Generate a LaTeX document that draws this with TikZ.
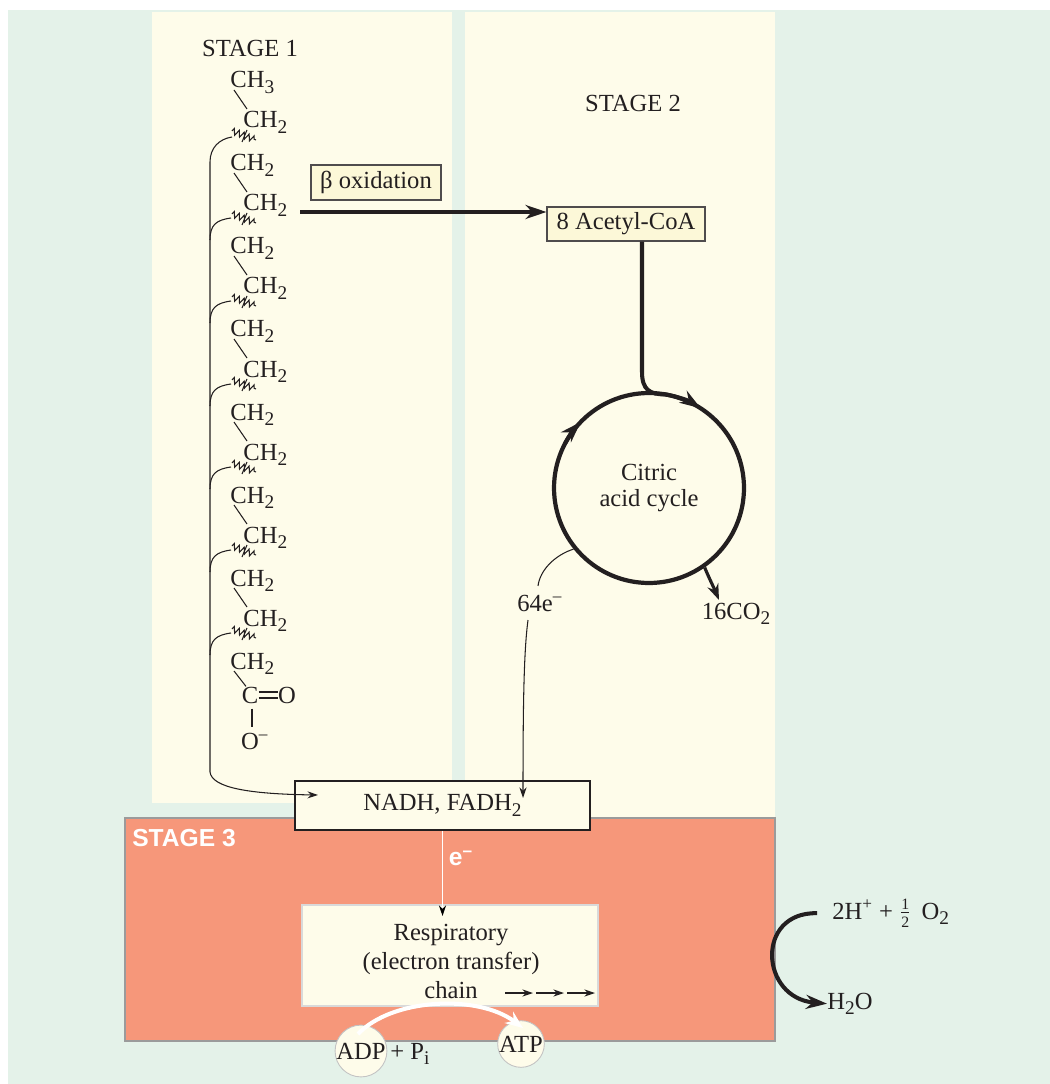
\documentclass[tikz,border=0pt]{standalone}
\usepackage{amsmath}
\usepackage{fontspec}
\setmainfont{Liberation Serif}
\setsansfont{Liberation Sans}
\usetikzlibrary{arrows.meta,calc,decorations.pathmorphing}

\definecolor{mint}{HTML}{E4F2E9}
\definecolor{cream}{HTML}{FEFCEA}
\definecolor{straw}{HTML}{FCF8D8}
\definecolor{salmon}{HTML}{F6977A}
\definecolor{rim}{HTML}{9B9B9B}
\definecolor{pale}{HTML}{D9D9D9}
\definecolor{ink}{HTML}{231F20}

\newcommand{\sub}[1]{\raisebox{-0.5ex}{\fontsize{11}{11}\selectfont #1}}
\newcommand{\chtwo}{CH\sub{2}}

\begin{document}
\begin{tikzpicture}[x=0.02cm,y=-0.02cm,
  txt/.style={font=\fontsize{14}{16.5}\selectfont,inner sep=0pt,text=ink},
  chem/.style={txt,anchor=base west},
  bond/.style={ink,line width=0.6pt},
  heavy/.style={ink,line width=2.3pt},
  box/.style={draw=ink,fill=cream,line width=0.8pt,txt},
  thintip/.style={-{Stealth[length=6pt,width=4pt]}},
  bigtip/.style={-{Stealth[length=12pt,width=8pt]}},
  coin/.style={circle,draw=rim!60,fill=cream,line width=0.5pt,minimum size=0.92cm,txt}]

\useasboundingbox (0,0) rectangle (1050,1084);
\fill[white] (0,0) rectangle (1050,1084);
\fill[mint] (8,10) rectangle (1050,1084);
\fill[cream] (152,12) rectangle (452,803);
\fill[cream] (465,12) rectangle (775,818);
\draw[rim,fill=salmon,line width=1.1pt] (125,818) rectangle (775,1041);

% stage labels
\node[txt] (st1) at (250,48) {STAGE 1};
\node[txt] (st2) at (633,103) {STAGE 2};
\node[txt,font=\sffamily\bfseries\fontsize{14}{16}\selectfont,text=white] (st3) at (184,838) {STAGE 3};

% fatty acid chain
\node[chem] (l0) at (230,88) {CH\sub{3}};
\foreach \i in {1,...,7}
  \node[chem] (l\i) at (230,88+83*\i) {\chtwo};
\foreach \i in {0,...,6}{
  \node[chem] (r\i) at (243,128+83*\i) {\chtwo};
  \draw[bond] ($(l\i.base west)+(4,2)$) -- ($(r\i.base west)+(4,-19)$);
  \draw[bond,decorate,decoration={zigzag,segment length=3pt,amplitude=1.8pt}]
    ($(r\i.base west)+(-11,3)$) -- ($(r\i.base west)+(13,12)$);
  \draw[bond] ($(r\i.base west)+(4,2)$) -- ($(r\i.base west)+(-1,14)$);
}
\node[txt] (cc) at (250,695) {C};
\node[txt] (oo) at (287,695) {O};
\node[txt] (om) at (250,741) {O\rlap{\textsuperscript{–}}};
\draw[bond] ($(l7.base west)+(4,2)$) -- ($(cc.north)+(-4,0)$);
\draw[bond] ($(cc.east)+(0,-3)$) -- ($(oo.west)+(0,-3)$);
\draw[bond] ($(cc.east)+(0,3)$) -- ($(oo.west)+(0,3)$);
\draw[bond] ($(cc.south)+(2,5)$) -- ($(om.north)+(2,-5)$);

% boxes
\node[box,fill=straw,draw=ink!80,line width=0.6pt,minimum width=2.6cm,minimum height=0.7cm] (beta) at (376,182.5) {β oxidation};
\node[box,fill=straw,draw=ink!80,line width=0.6pt,minimum width=3.16cm,minimum height=0.68cm] (acetyl) at (626,224) {8 Acetyl-CoA};
\node[box,line width=1.1pt,minimum width=5.9cm,minimum height=0.98cm] (nadh) at (442.5,805.5) {NADH, FADH\sub{2}};
\node[box,draw=pale,line width=1.1pt,minimum width=5.92cm,minimum height=2.02cm] (resp) at (450,955.5) {};
\node[txt,align=center] (resptxt) at (451,961) {Respiratory\\(electron transfer)\\chain};

% bracket to NADH
\coordinate (ntip) at (318,795);
\draw[bond,thintip] ($(r0.base west)+(-11,9)$) .. controls ($(r0.base west)+(-24,11)$) and (210,148) .. (210,162)
  -- (210,772) .. controls (212,788) and (250,794) .. (ntip);
\foreach \i in {1,...,6}
  \draw[bond] ($(r\i.base west)+(-33,29)$) .. controls ($(r\i.base west)+(-33,14)$) and ($(r\i.base west)+(-27,9)$) .. ($(r\i.base west)+(-12,7)$);

% beta oxidation arrow
\coordinate (bstart) at (300,212);
\draw[heavy,bigtip] (bstart) -- (bstart -| acetyl.west);

% citric acid cycle
\node[circle,draw=ink,line width=2.4pt,minimum size=3.8cm,txt,align=center,font=\fontsize{14}{14.5}\selectfont] (cyc) at (649,488) {Citric\\acid cycle};
\draw[heavy,bigtip] ($(acetyl.south)+(16,0)$) -- (642,372) .. controls (642,390) and (650,394.5) .. (665.5,394.4)
  arc[start angle=-80,end angle=-57,radius=95];
\draw[heavy,bigtip] (cyc.center) ++(-152:95) arc[start angle=-152,end angle=-136,radius=95];

\node[txt] (co2) at (736,614) {16CO\sub{2}};
\coordinate (co2tip) at (719,600);
\draw[ink,line width=1.8pt,-{Stealth[length=9pt,width=6.5pt]}] (cyc.-55) .. controls (709,578) and (714,588) .. (co2tip);

\node[txt,outer sep=5pt] (e64) at (535,603) {64e\rlap{\textsuperscript{–}}};
\draw[bond] (cyc.-141) .. controls (555,555) and (540,570) .. ($(e64.north)+(3,0)$);
\coordinate (e64tip) at (523,798);
\draw[bond,thintip] ($(e64.south)+(-7,0)$) .. controls (524,650) and (523,700) .. (e64tip);

% stage 3
\coordinate (etip) at (442.5,916);
\draw[white,line width=1pt,-{Stealth[black,length=6pt,width=4pt]}] (nadh) -- (etip);
\node[txt,font=\sffamily\bfseries\fontsize{14}{16}\selectfont,text=white] (elab) at (461,858) {e\textsuperscript{–}};
\foreach \x in {505,536,567}
  \draw[bond,thintip] (\x,993) -- ++(28,0);

\node[coin] (adp) at (361,1051) {ADP};
\node[txt,anchor=base west] (pi) at ($(adp.base)+(29,0)$) {+ P\sub{i}};
\node[coin,minimum size=0.88cm] (atp) at (521,1044) {ATP};
\draw[white,line width=2.3pt,-{Stealth[length=10pt,width=8pt]}] ($(adp.center)+(-3,-17)$) .. controls (392,998) and (478,994) .. ($(atp.center)+(2,-16)$);

% water
\node[txt,anchor=base west] (reac) at (832,919) {2H\textsuperscript{+} + $\tfrac{\text{\small 1}}{\text{\small 2}}$\, O\sub{2}};
\node[txt,anchor=base west] (water) at (827,1009) {H\sub{2}O};
\draw[heavy,bigtip] ($(reac.west)+(-15,0)$) .. controls (755,912) and (760,998) .. (water.west);

\end{tikzpicture}
\end{document}
